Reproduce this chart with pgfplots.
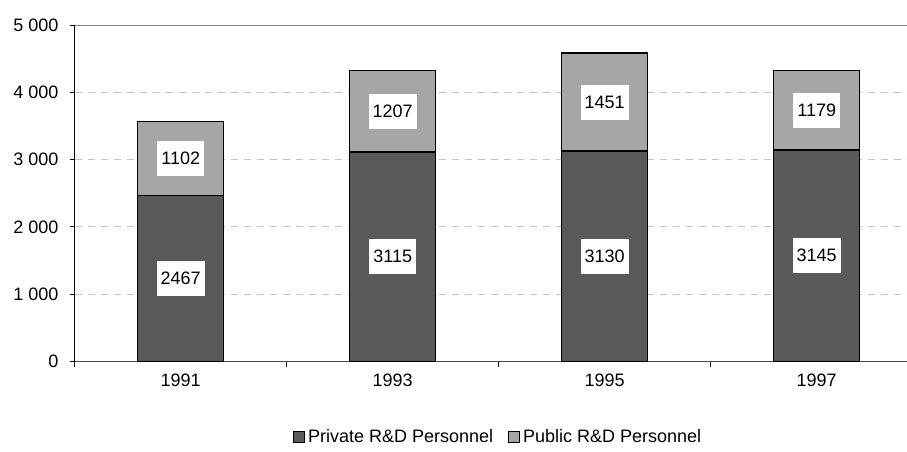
\documentclass[border=0pt]{standalone}
\usepackage{fontspec}
\setmainfont{Liberation Sans}
\usepackage{pgfplots}
\pgfplotsset{compat=1.18}
\usepackage{pgfplotstable}

\definecolor{privgray}{RGB}{89,89,89}
\definecolor{pubgray}{RGB}{166,166,166}
\definecolor{gridgray}{RGB}{195,195,195}

% R&D personnel by year
\pgfplotstableread{
x year priv pub
0 1991 2467 1102
1 1993 3115 1207
2 1995 3130 1451
3 1997 3145 1179
}\rdtable

\begin{document}
\fontsize{18}{21.5}\selectfont
\begin{tikzpicture}
\useasboundingbox (-74.7pt,-90.5pt) rectangle (832.3pt,361.5pt);
\begin{axis}[
    scale only axis,
    width=832.3pt, height=336.5pt,
    ybar stacked, bar width=86pt,
    xmin=-0.5, xmax=3.426,
    ymin=0, ymax=5000,
    axis x line=bottom, axis y line=left,
    axis line style={-},
    x axis line style={draw=black!70, line width=1pt},
    y axis line style={draw=black, line width=1pt},
    tick align=outside, major tick length=5pt,
    tick style={black, line width=0.9pt},
    ytick={0,1000,...,5000},
    yticklabels={0,1 000,2 000,3 000,4 000,5 000},
    ymajorgrids,
    y grid style={gridgray, line width=0.9pt, dash pattern=on 7pt off 6pt},
    xtick={-0.5,0.5,1.5,2.5},
    xticklabels={},
    extra x ticks={0,1,2,3},
    extra x tick labels={1991,1993,1995,1997},
    extra x tick style={major tick length=0pt},
    x tick label style={yshift=-6pt},
    y tick label style={xshift=-5pt},
    /pgf/number format/assume math mode=true,
    /pgf/number format/1000 sep={},
    nodes near coords,
    point meta=explicit,
    every node near coord/.append style={
        anchor=center, fill=white, text=black,
        inner xsep=4pt, inner ysep=0pt, minimum height=35pt},
    legend style={
        at={(0.5094,-0.2244)}, anchor=center, draw=none,
        legend columns=-1,
        /tikz/every even column/.append style={column sep=12pt},
        nodes={inner xsep=3pt}},
    legend image code/.code={
        \draw[#1, line width=0.9pt] (0pt,-5.5pt) rectangle (11pt,5.5pt);},
]
\addplot[fill=privgray, draw=black, line width=1.5pt]
    table[x=x, y=priv, meta=priv]{\rdtable};
\addplot[fill=pubgray, draw=black, line width=1.5pt]
    table[x=x, y=pub, meta=pub]{\rdtable};
\legend{Private R\&D Personnel, Public R\&D Personnel}
\draw[black!50, line width=1.5pt] (rel axis cs:0,1) -- (rel axis cs:1,1);
\end{axis}
\end{tikzpicture}
\end{document}
